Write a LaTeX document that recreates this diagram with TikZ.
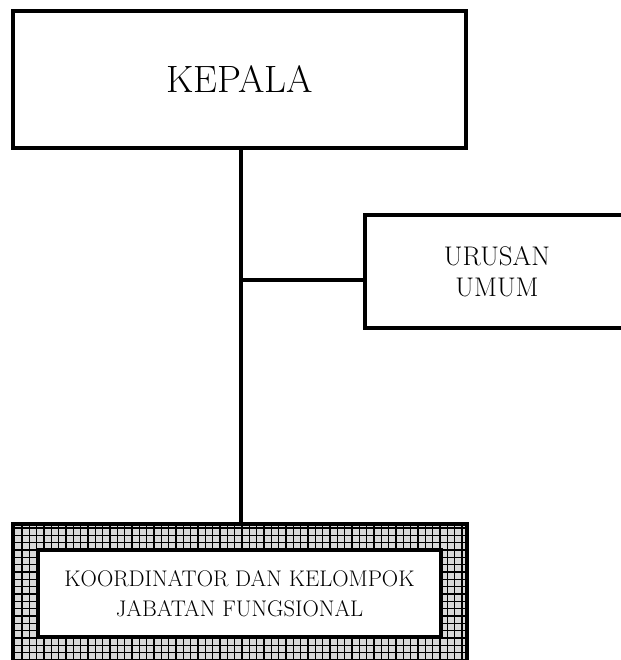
\documentclass[tikz,border=0pt]{standalone}
\usepackage{tikz}

\tikzset{
  kotak/.style={draw=black, line width=1.05mm, fill=white, align=center, inner sep=0pt},
  garis/.style={line width=1.15mm},
  arsir/.style={line width=0.45mm},
}

\begin{document}
\begin{tikzpicture}[x=0.3mm, y=-0.3mm]
\useasboundingbox (0,0) rectangle (621,660);
\clip (0,0) rectangle (621,660);

% kotak pimpinan dan urusan umum
\node [kotak, minimum width=135.9mm, minimum height=41.1mm, font=\fontsize{32.5}{38}\selectfont]
  (kepala) at (239.5,79.5) {KEPALA};
\node [kotak, minimum width=79.2mm, minimum height=33.9mm, font=\fontsize{23}{26}\selectfont]
  (urusan) at (497,271.5) {URUSAN\\UMUM};

% kotak jabatan fungsional dengan bingkai arsir
\node [minimum width=136.2mm, minimum height=42mm, inner sep=0pt] (luar) at (240,594.5) {};
\fill [gray!30] (luar.south west) rectangle (luar.north east);
\begin{scope}
\clip (luar.south west) rectangle (luar.north east);
\draw [arsir, step=2.2mm] (luar.south west) grid (luar.north east);
\end{scope}
\draw [line width=1.2mm] (luar.south west) rectangle (luar.north east);
\node [kotak, line width=0.95mm, minimum width=120.9mm, minimum height=26.1mm,
  font=\fontsize{19.3}{25.5}\selectfont] (fungsional) at (239.5,593.5)
  {KOORDINATOR DAN KELOMPOK\\JABATAN FUNGSIONAL};

% penghubung
\coordinate (cabang) at (241,280);
\draw [garis] (kepala.south -| cabang) -- (luar.north -| cabang);
\draw [garis] (cabang) -- (cabang -| urusan.west);
\end{tikzpicture}
\end{document}
